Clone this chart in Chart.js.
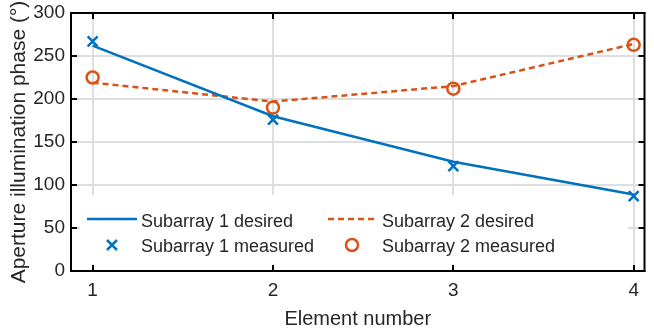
<!DOCTYPE html>
<html>
<head>
<meta charset="utf-8">
<script src="https://cdn.jsdelivr.net/npm/chart.js@4.4.1/dist/chart.umd.min.js"></script>
<style>
  html, body { margin: 0; padding: 0; background: #fff; }
  #wrap { width: 654px; height: 332px; }
</style>
</head>
<body>
<div id="wrap"><canvas id="chart" width="654" height="332"></canvas></div>
<script>
const elements = [1, 2, 3, 4];
const yTicks = [0, 50, 100, 150, 200, 250, 300];
const sub1Desired = [262, 180, 127, 89];
const sub1Measured = [267, 176, 122, 87];
const sub2Desired = [219, 197, 215, 264];
const sub2Measured = [225, 190, 212, 263];
const seriesLabels = [
  "Subarray 1 desired",
  "Subarray 1 measured",
  "Subarray 2 desired",
  "Subarray 2 measured",
];

const BLUE = "#0072bd";
const ORANGE = "#d95319";
const TEXT = "#262626";
const GRID = "#dedede";
const FONT = "'Liberation Sans', Arial, sans-serif";

function points(ys) {
  return elements.map((x, i) => ({ x, y: ys[i] }));
}

// legend box sits over the data, inside the axes
const legendPlugin = {
  id: "boxLegend",
  afterDatasetsDraw(chart) {
    const ctx = chart.ctx;
    ctx.save();
    ctx.fillStyle = "#fff";
    ctx.fillRect(80, 195, 548, 69);
    ctx.font = `18px ${FONT}`;
    ctx.fillStyle = TEXT;
    ctx.textBaseline = "alphabetic";
    ctx.textAlign = "left";
    ctx.fillText(seriesLabels[0], 141, 227);
    ctx.fillText(seriesLabels[1], 141, 252);
    ctx.fillText(seriesLabels[2], 382, 227);
    ctx.fillText(seriesLabels[3], 382, 252);

    ctx.lineWidth = 2.5;
    ctx.strokeStyle = BLUE;
    ctx.beginPath();
    ctx.moveTo(87, 219);
    ctx.lineTo(137, 219);
    ctx.stroke();
    ctx.beginPath();
    ctx.moveTo(107, 240);
    ctx.lineTo(117, 250);
    ctx.moveTo(117, 240);
    ctx.lineTo(107, 250);
    ctx.stroke();

    ctx.strokeStyle = ORANGE;
    ctx.setLineDash([6, 4]);
    ctx.beginPath();
    ctx.moveTo(328, 219);
    ctx.lineTo(378, 219);
    ctx.stroke();
    ctx.setLineDash([]);
    ctx.beginPath();
    ctx.arc(352, 245, 6, 0, Math.PI * 2);
    ctx.stroke();
    ctx.restore();
  },
};

// black box round the axes with inward ticks on all four sides
const framePlugin = {
  id: "frame",
  afterDraw(chart) {
    const ctx = chart.ctx;
    const a = chart.chartArea;
    const w = a.right - a.left;
    const h = a.bottom - a.top;
    ctx.save();
    ctx.fillStyle = "#000";
    ctx.fillRect(a.left - 1, a.top - 1, 2, h + 2);
    ctx.fillRect(a.right - 1, a.top - 1, 2, h + 2);
    ctx.fillRect(a.left - 1, a.top - 1, w + 2, 2);
    ctx.fillRect(a.left - 1, a.bottom - 1, w + 2, 2);
    yTicks.forEach((v) => {
      const y = Math.round(chart.scales.y.getPixelForValue(v));
      ctx.fillRect(a.left, y - 1, 6, 2);
      ctx.fillRect(a.right - 6, y - 1, 6, 2);
    });
    elements.forEach((v) => {
      const x = Math.round(chart.scales.x.getPixelForValue(v));
      ctx.fillRect(x - 1, a.bottom - 6, 2, 6);
      ctx.fillRect(x - 1, a.top, 2, 6);
    });
    ctx.restore();
  },
};

new Chart(document.getElementById("chart"), {
  type: "line",
  data: {
    datasets: [
      {
        label: seriesLabels[0],
        data: points(sub1Desired),
        borderColor: BLUE,
        borderWidth: 2.5,
        pointRadius: 0,
        tension: 0,
        fill: false,
      },
      {
        label: seriesLabels[1],
        data: points(sub1Measured),
        showLine: false,
        pointStyle: "crossRot",
        pointRadius: 7,
        pointBorderWidth: 2.5,
        pointBorderColor: BLUE,
        borderColor: BLUE,
      },
      {
        label: seriesLabels[2],
        data: points(sub2Desired),
        borderColor: ORANGE,
        borderWidth: 2.5,
        borderDash: [6, 4],
        pointRadius: 0,
        tension: 0,
        fill: false,
      },
      {
        label: seriesLabels[3],
        data: points(sub2Measured),
        showLine: false,
        pointStyle: "circle",
        pointRadius: 6,
        pointBorderWidth: 2.5,
        pointBorderColor: ORANGE,
        pointBackgroundColor: "rgba(0,0,0,0)",
        borderColor: ORANGE,
      },
    ],
  },
  options: {
    responsive: false,
    animation: false,
    layout: { padding: { top: 13, right: 3, left: 0, bottom: 0 } },
    plugins: {
      legend: { display: false },
      tooltip: { enabled: false },
    },
    scales: {
      x: {
        type: "linear",
        min: 0.88,
        max: 4.06,
        afterBuildTicks: (s) => {
          s.ticks = elements.map((v) => ({ value: v }));
        },
        afterFit: (s) => {
          s.height = 61;
          s.paddingLeft = 0;
          s.paddingRight = 0;
        },
        grid: { color: GRID, lineWidth: 2, drawTicks: false },
        border: { display: false },
        ticks: { color: TEXT, font: { family: FONT, size: 19 }, padding: 8 },
        title: {
          display: true,
          text: "Element number",
          color: TEXT,
          font: { family: FONT, size: 20 },
          padding: { top: 0, bottom: 1 },
        },
      },
      y: {
        min: 0,
        max: 300,
        afterBuildTicks: (s) => {
          s.ticks = yTicks.map((v) => ({ value: v }));
        },
        afterFit: (s) => {
          s.width = 71;
          s.paddingTop = 0;
          s.paddingBottom = 0;
        },
        grid: { color: GRID, lineWidth: 2, drawTicks: false },
        border: { display: false },
        ticks: { color: TEXT, font: { family: FONT, size: 19 }, padding: 6 },
        title: {
          display: true,
          text: "Aperture illumination phase (°)",
          color: TEXT,
          font: { family: FONT, size: 21 },
          padding: { top: 7, bottom: 0 },
        },
      },
    },
  },
  plugins: [legendPlugin, framePlugin],
});
</script>
</body>
</html>
